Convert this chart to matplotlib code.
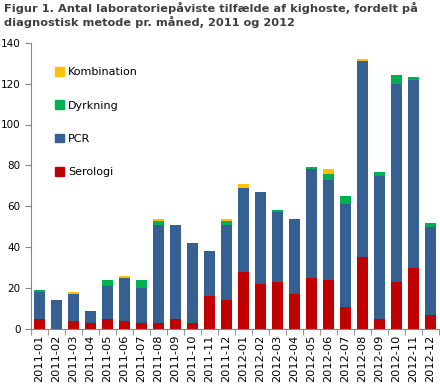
import numpy as np
import matplotlib
matplotlib.use('Agg')
import matplotlib.pyplot as plt
from matplotlib.patches import Patch

months = ['2011-01', '2011-02', '2011-03', '2011-04', '2011-05', '2011-06',
          '2011-07', '2011-08', '2011-09', '2011-10', '2011-11', '2011-12',
          '2012-01', '2012-02', '2012-03', '2012-04', '2012-05', '2012-06',
          '2012-07', '2012-08', '2012-09', '2012-10', '2012-11', '2012-12']

serologi = [5, 0, 4, 3, 5, 4, 3, 3, 5, 3, 16, 14,
            28, 22, 23, 17, 25, 24, 11, 35, 5, 23, 30, 7]
pcr = [13, 14, 13, 6, 16, 21, 17, 48, 46, 39, 22, 37,
       41, 45, 34, 37, 53, 49, 50, 96, 70, 97, 92, 43]
dyrkning = [1, 0, 0, 0, 3, 0, 4, 2, 0, 0, 0, 2,
            0, 0, 1, 0, 1, 3, 4, 0, 2, 4, 1, 2]
kombination = [0, 0, 1, 0, 0, 1, 0, 1, 0, 0, 0, 1,
               2, 0, 0, 0, 0, 2, 0, 1, 0, 0, 0, 0]

c_ser = '#C00000'
c_pcr = '#376092'
c_dyr = '#00B050'
c_kom = '#FFC000'

fig = plt.figure(figsize=(4.4, 3.87), dpi=100)
ax = fig.add_axes([31 / 440, 58 / 387, 408 / 440, (329 - 42.7) / 387])

x = np.arange(len(months))
w = 0.7
s = np.array(serologi)
p = np.array(pcr)
d = np.array(dyrkning)
k = np.array(kombination)
ax.bar(x, s, w, color=c_ser)
ax.bar(x, p, w, bottom=s, color=c_pcr)
ax.bar(x, d, w, bottom=s + p, color=c_dyr)
ax.bar(x, k, w, bottom=s + p + d, color=c_kom)

ax.set_xlim(-0.5, len(months) - 0.5)
ax.set_ylim(0, 140)
ax.set_yticks(range(0, 141, 20))
ax.set_xticks(x)
ax.set_xticklabels(months, rotation=90, fontsize=8.2)
ax.set_xticks(np.arange(-0.5, len(months), 1), minor=True)
ax.tick_params(axis='x', which='major', length=0, pad=4)
ax.tick_params(axis='x', which='minor', length=4, color='#868686')
ax.tick_params(axis='y', labelsize=7.5, length=4, color='#868686')
for side in ['top', 'right']:
    ax.spines[side].set_visible(False)
for side in ['left', 'bottom']:
    ax.spines[side].set_color('#868686')

handles = [Patch(color=c_kom), Patch(color=c_dyr), Patch(color=c_pcr), Patch(color=c_ser)]
labels = ['Kombination', 'Dyrkning', 'PCR', 'Serologi']
ax.legend(handles, labels, loc='upper left', bbox_to_anchor=(0.035, 0.95),
          frameon=False, fontsize=8, handlelength=0.8, handleheight=0.8,
          handletextpad=0.35, labelspacing=2.1)

fig.text(0.008, 0.995, 'Figur 1. Antal laboratoriepåviste tilfælde af kighoste, fordelt på\n'
         'diagnostisk metode pr. måned, 2011 og 2012',
         ha='left', va='top', fontsize=8.2, fontweight='bold', color='#3F3F3F',
         linespacing=1.15)

fig.savefig('out.png', dpi=100)
